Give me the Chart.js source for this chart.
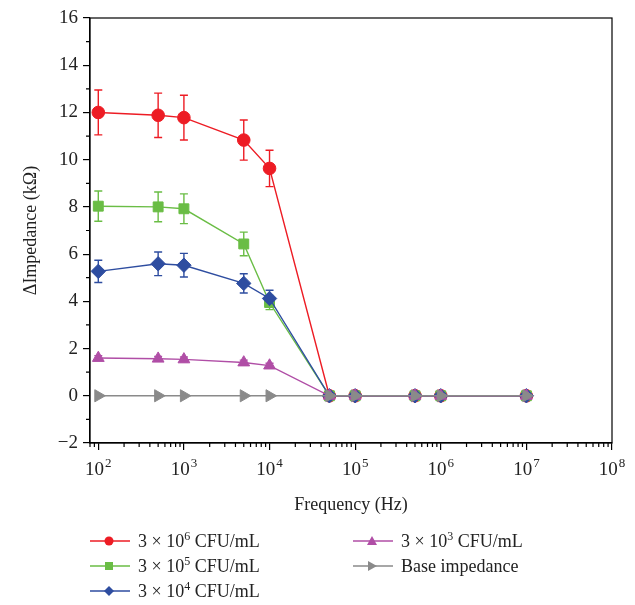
<!DOCTYPE html>
<html>
<head>
<meta charset="utf-8">
<script src="https://cdn.jsdelivr.net/npm/chart.js@4"></script>
<style>
  body { margin: 0; background: #fff; }
  #wrap { position: relative; width: 635px; height: 605px; }
  #legend { position: absolute; left: 0; top: 0; width: 635px; height: 605px; pointer-events: none;
    font-family: "Liberation Serif", serif; font-size: 18px; color: #222; }
  .item { position: absolute; display: flex; align-items: center; height: 24px; }
  .item svg { margin-right: 6px; }
  sup { font-size: 12px; vertical-align: 7px; line-height: 0; }
</style>
</head>
<body>
<div id="wrap">
  <canvas id="myChart" width="635" height="520"></canvas>
  <div id="legend"></div>
</div>
<script>
const freqs = [100, 500, 1000, 5000, 10000, 50000, 100000, 500000, 1000000, 10000000];

const red = [12.0, 11.88, 11.78, 10.83, 9.63, 0, 0, 0, 0, 0];
const redErr = [0.95, 0.94, 0.95, 0.85, 0.77, 0, 0, 0, 0, 0];
const green = [8.03, 8.0, 7.92, 6.43, 3.95, 0, 0, 0, 0, 0];
const greenErr = [0.64, 0.63, 0.63, 0.5, 0.3, 0, 0, 0, 0, 0];
const blue = [5.27, 5.59, 5.53, 4.76, 4.12, 0, 0, 0, 0, 0];
const blueErr = [0.47, 0.5, 0.5, 0.41, 0.35, 0, 0, 0, 0, 0];
const magenta = [1.6, 1.57, 1.54, 1.41, 1.28, 0, 0, 0, 0, 0];
const magentaErr = [0.1, 0.1, 0.1, 0.1, 0.1, 0, 0, 0, 0, 0];
const base = [0, 0, 0, 0, 0, 0, 0, 0, 0, 0];

const yTicks = [-2, 0, 2, 4, 6, 8, 10, 12, 14, 16];
const xExponents = [2, 3, 4, 5, 6, 7, 8];
const seriesLabels = ['3 × 10<sup>6</sup> CFU/mL', '3 × 10<sup>5</sup> CFU/mL', '3 × 10<sup>4</sup> CFU/mL',
  '3 × 10<sup>3</sup> CFU/mL', 'Base impedance'];

const font = 'Liberation Serif';

function pts(ys) {
  return ys.map((y, i) => ({ x: freqs[i], y }));
}

function ds(label, ys, err, color, style, radius, order, rotation) {
  return {
    label,
    data: pts(ys),
    err,
    borderColor: color,
    backgroundColor: color,
    pointBackgroundColor: color,
    pointBorderColor: color,
    pointStyle: style,
    pointRadius: radius,
    pointRotation: rotation || 0,
    borderWidth: 1.4,
    pointBorderWidth: 1,
    order,
  };
}

const data = {
  datasets: [
    ds(seriesLabels[0], red, redErr, '#ed1c24', 'circle', 6.3, 5),
    ds(seriesLabels[1], green, greenErr, '#6abd45', 'rect', 7, 4),
    ds(seriesLabels[2], blue, blueErr, '#2e4da0', 'rectRot', 7.2, 3),
    ds(seriesLabels[3], magenta, magentaErr, '#b04ea6', 'triangle', 6.8, 2),
    ds(seriesLabels[4], base, null, '#8a8a8a', 'triangle', 7, 1, 90),
  ],
};

// error bars, drawn under the markers
const errorBars = {
  id: 'errorBars',
  beforeDatasetsDraw(chart) {
    const ctx = chart.ctx;
    const x = chart.scales.x, y = chart.scales.y;
    chart.data.datasets.forEach(d => {
      if (!d.err) return;
      ctx.save();
      ctx.strokeStyle = d.borderColor;
      ctx.lineWidth = 1.4;
      d.data.forEach((p, i) => {
        const e = d.err[i];
        if (!e) return;
        const px = x.getPixelForValue(p.x);
        const top = y.getPixelForValue(p.y + e);
        const bot = y.getPixelForValue(p.y - e);
        ctx.beginPath();
        ctx.moveTo(px, top); ctx.lineTo(px, bot);
        ctx.moveTo(px - 4, top); ctx.lineTo(px + 4, top);
        ctx.moveTo(px - 4, bot); ctx.lineTo(px + 4, bot);
        ctx.stroke();
      });
      ctx.restore();
    });
  },
};

// frame, minor ticks and the 10^n labels with real superscripts
const frame = {
  id: 'frame',
  afterDraw(chart) {
    const ctx = chart.ctx;
    const a = chart.chartArea;
    const x = chart.scales.x, y = chart.scales.y;
    ctx.save();
    ctx.strokeStyle = '#000';
    ctx.lineWidth = 1.2;
    ctx.strokeRect(a.left, a.top, a.right - a.left, a.bottom - a.top);
    ctx.beginPath();
    for (let n = 1; n < 8; n++) {
      for (let k = 2; k < 10; k++) {
        const v = k * Math.pow(10, n);
        if (v < x.min || v > x.max) continue;
        const px = x.getPixelForValue(v);
        ctx.moveTo(px, a.bottom); ctx.lineTo(px, a.bottom + 4);
      }
    }
    for (let v = -1; v < 16; v += 2) {
      const py = y.getPixelForValue(v);
      ctx.moveTo(a.left, py); ctx.lineTo(a.left - 4, py);
    }
    ctx.stroke();

    ctx.fillStyle = '#222';
    ctx.textBaseline = 'alphabetic';
    ctx.textAlign = 'left';
    xExponents.forEach(e => {
      const px = x.getPixelForValue(Math.pow(10, e));
      ctx.font = `19px "${font}"`;
      const w1 = ctx.measureText('10').width;
      ctx.font = `13px "${font}"`;
      const w2 = ctx.measureText(String(e)).width;
      const left = px - (w1 + w2 + 1) / 2;
      ctx.font = `19px "${font}"`;
      ctx.fillText('10', left, a.bottom + 32);
      ctx.font = `13px "${font}"`;
      ctx.fillText(String(e), left + w1 + 1, a.bottom + 24);
    });
    ctx.restore();
  },
};

const config = {
  type: 'line',
  data,
  options: {
    responsive: false,
    animation: false,
    layout: { padding: { top: 18, right: 23, left: 0, bottom: 0 } },
    plugins: {
      legend: { display: false },
      tooltip: { enabled: false },
    },
    scales: {
      x: {
        type: 'logarithmic',
        min: 80,
        max: 1e8,
        afterBuildTicks: s => { s.ticks = xExponents.map(e => ({ value: Math.pow(10, e) })); },
        afterFit: s => { s.height = 77; },
        ticks: {
          autoSkip: false,
          maxRotation: 0,
          callback: () => '',
        },
        grid: { drawOnChartArea: false, drawTicks: true, tickLength: 7, color: '#000', lineWidth: 1.2 },
        border: { display: true, color: '#000', width: 1.2 },
        title: { display: true, text: 'Frequency (Hz)', color: '#222', font: { family: font, size: 18 }, padding: { top: 4 } },
      },
      y: {
        min: -2,
        max: 16,
        afterBuildTicks: s => { s.ticks = yTicks.map(v => ({ value: v })); },
        afterFit: s => { s.width = 90; },
        ticks: {
          padding: 5,
          color: '#222',
          font: { family: font, size: 19 },
          callback: v => String(v).replace('-', '−'),
        },
        grid: { drawOnChartArea: false, drawTicks: true, tickLength: 7, color: '#000', lineWidth: 1.2 },
        border: { display: true, color: '#000', width: 1.2 },
        title: { display: true, text: 'ΔImpedance (kΩ)', color: '#222', font: { family: font, size: 18 }, padding: { top: 20, bottom: 0 } },
      },
    },
  },
  plugins: [errorBars, frame],
};

const ctx = document.getElementById('myChart');
const chart = new Chart(ctx, config);

// legend in two columns, like the original
const legendPos = [[88, 529], [88, 554], [88, 579], [351, 529], [351, 554]];
const legend = document.getElementById('legend');
chart.data.datasets.forEach((d, i) => {
  const el = document.createElement('div');
  el.className = 'item';
  el.style.left = legendPos[i][0] + 'px';
  el.style.top = legendPos[i][1] + 'px';
  const c = d.borderColor;
  let mark;
  if (d.pointStyle === 'circle') mark = `<circle cx="21" cy="12" r="4.5" fill="${c}"/>`;
  else if (d.pointStyle === 'rect') mark = `<rect x="17" y="8" width="8" height="8" fill="${c}"/>`;
  else if (d.pointStyle === 'rectRot') mark = `<polygon points="21,7 26,12 21,17 16,12" fill="${c}"/>`;
  else if (d.pointRotation === 90) mark = `<polygon points="17,7 26,12 17,17" fill="${c}"/>`;
  else mark = `<polygon points="21,7 26,16 16,16" fill="${c}"/>`;
  el.innerHTML = `<svg width="44" height="24"><line x1="2" y1="12" x2="42" y2="12" stroke="${c}" stroke-width="1.4"/>${mark}</svg><span>${d.label}</span>`;
  legend.appendChild(el);
});
</script>
</body>
</html>
